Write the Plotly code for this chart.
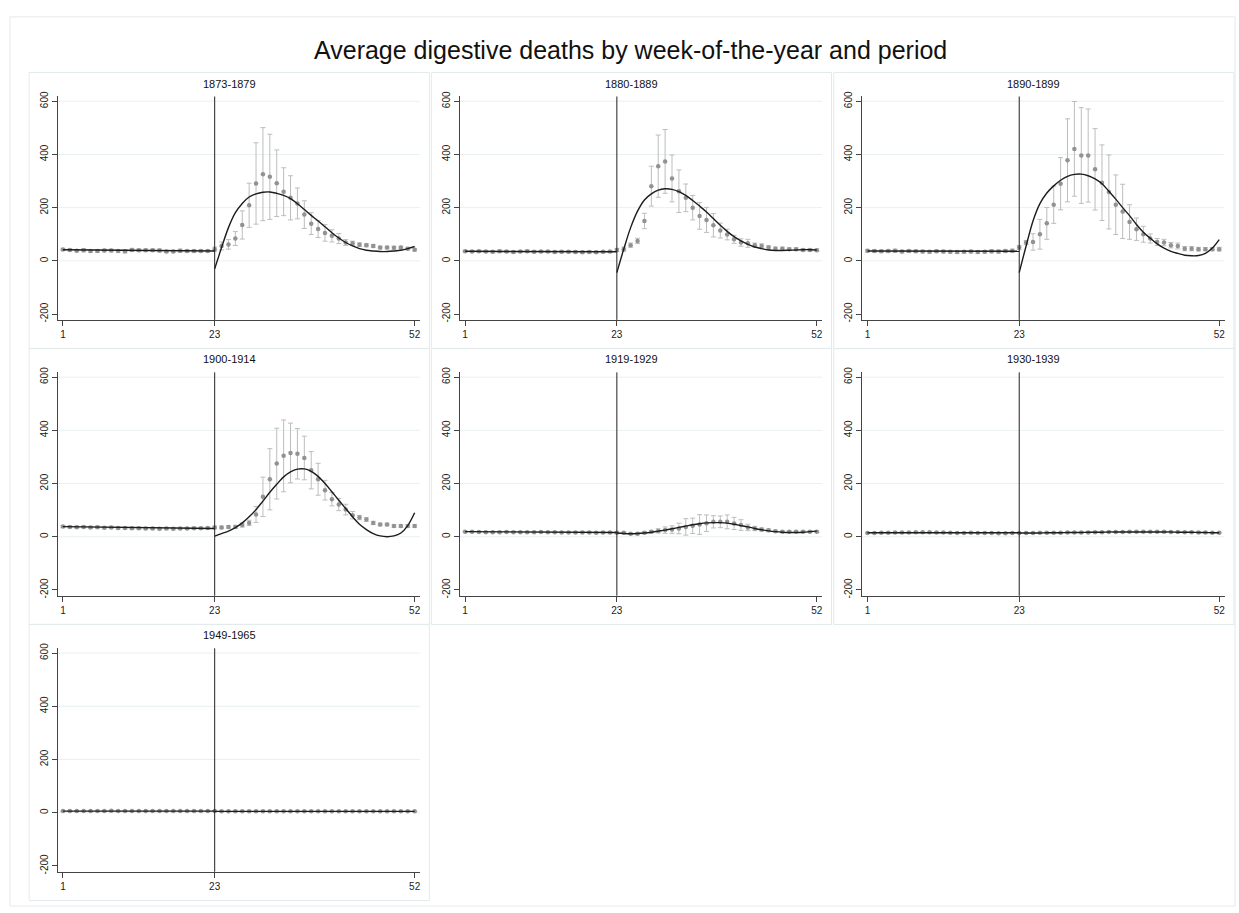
import plotly.graph_objects as go

# ---------------- data ----------------
weeks = list(range(1, 53))
post_weeks = list(range(23, 53))
pre_fit_weeks = [1, 23]
break_week = 23
x_ticks = [1, 23, 52]
y_ticks = [-200, 0, 200, 400, 600]
y_tick_text = ["-200", "0", "200", "400", "600"]
grid_vals = [0, 200, 400, 600]

periods = ["1873-1879", "1880-1889", "1890-1899", "1900-1914",
           "1919-1929", "1930-1939", "1949-1965"]

mean_1873 = [43, 41, 38, 40, 37, 37, 39, 39, 37, 36, 41, 40, 40, 40, 39, 35, 35, 38, 37, 37, 37, 37,
             44, 56, 62, 84, 135, 209, 291, 326, 316, 292, 260, 237, 216, 174, 140, 120, 105, 94,
             84, 69, 66, 61, 59, 56, 50, 50, 49, 50, 46, 42]
err_1873 = [4, 4, 4, 6, 5, 5, 5, 5, 4, 6, 6, 5, 5, 5, 6, 4, 4, 6, 5, 5, 5, 4,
            8, 15, 18, 26, 53, 83, 153, 175, 160, 125, 90, 83, 58, 52, 41, 32, 31, 23,
            19, 11, 8, 7, 6, 6, 5, 5, 6, 5, 5, 5]
fit_pre_1873 = [42, 37]
fit_post_1873 = [-30, 50, 125, 181, 216, 240, 252, 258, 259, 254, 246, 234, 215, 193, 171,
                 150, 128, 106, 86, 69, 56, 46, 40, 37, 35, 35, 37, 40, 46, 54]

mean_1880 = [36, 35, 36, 35, 34, 36, 35, 33, 35, 36, 34, 35, 35, 33, 34, 34, 33, 32, 33, 32, 34, 35,
             41, 44, 59, 75, 150, 281, 356, 374, 310, 262, 237, 200, 169, 154, 134, 114, 99, 81,
             69, 66, 59, 56, 50, 46, 46, 44, 44, 41, 41, 40]
err_1880 = [4, 4, 4, 4, 4, 5, 4, 4, 4, 5, 4, 4, 4, 4, 4, 4, 4, 4, 4, 4, 4, 4,
            6, 8, 8, 10, 29, 75, 117, 120, 88, 80, 52, 46, 50, 47, 44, 28, 20, 15,
            14, 15, 8, 8, 7, 6, 6, 5, 5, 5, 5, 5]
fit_pre_1880 = [36, 34]
fit_post_1880 = [-44, 44, 125, 187, 229, 252, 266, 271, 269, 260, 246, 227, 206, 184, 159,
                 134, 111, 91, 75, 62, 52, 46, 41, 39, 39, 40, 41, 42, 42, 41]

mean_1890 = [38, 37, 36, 37, 38, 35, 37, 36, 35, 34, 36, 35, 34, 33, 34, 35, 33, 34, 36, 35, 37, 38,
             50, 69, 71, 100, 141, 211, 290, 378, 421, 396, 396, 344, 294, 259, 211, 186, 146, 119,
             100, 84, 71, 69, 59, 56, 46, 46, 44, 44, 44, 44]
err_1890 = [5, 5, 5, 6, 6, 5, 5, 5, 5, 5, 5, 5, 5, 5, 5, 5, 5, 5, 6, 6, 6, 6,
            8, 8, 31, 56, 60, 70, 98, 156, 178, 180, 175, 153, 142, 139, 112, 102, 65, 42,
            30, 17, 13, 12, 10, 11, 8, 8, 7, 6, 6, 7]
fit_pre_1890 = [37, 36]
fit_post_1890 = [-44, 56, 150, 215, 255, 282, 303, 318, 325, 326, 320, 308, 290, 262, 232,
                 200, 170, 137, 108, 85, 64, 48, 36, 28, 21, 19, 20, 28, 48, 80]

mean_1900 = [38, 37, 36, 37, 35, 36, 34, 35, 33, 33, 32, 32, 31, 31, 30, 31, 30, 31, 31, 32, 32, 33,
             35, 35, 37, 37, 44, 52, 84, 150, 216, 275, 304, 315, 312, 296, 250, 216, 175, 141,
             121, 102, 81, 72, 65, 52, 46, 46, 40, 40, 40, 40]
err_1900 = [4, 4, 4, 4, 4, 4, 4, 4, 4, 4, 4, 4, 4, 4, 4, 4, 4, 4, 4, 4, 4, 4,
            5, 5, 5, 6, 8, 10, 30, 74, 115, 133, 135, 112, 95, 82, 70, 60, 37, 25,
            23, 20, 14, 8, 7, 6, 5, 5, 5, 5, 5, 5]
fit_pre_1900 = [38, 31]
fit_post_1900 = [2, 12, 21, 34, 52, 75, 102, 134, 167, 197, 225, 244, 254, 255, 246,
                 227, 200, 169, 137, 106, 75, 47, 27, 12, 3, 0, 3, 14, 42, 90]

mean_1919 = [19, 19, 18, 17, 17, 17, 18, 17, 17, 17, 17, 18, 17, 17, 16, 16, 16, 16, 16, 15, 16, 16,
             15, 15, 11, 11, 15, 19, 22, 25, 27, 31, 37, 41, 46, 51, 56, 56, 56, 50,
             44, 35, 31, 27, 24, 21, 19, 19, 19, 19, 19, 19]
err_1919 = [2, 2, 2, 2, 2, 2, 2, 2, 2, 2, 2, 2, 2, 2, 2, 2, 2, 2, 2, 2, 2, 2,
            3, 3, 3, 3, 4, 5, 8, 12, 14, 20, 31, 29, 37, 31, 23, 22, 26, 23,
            20, 12, 8, 6, 5, 4, 3, 3, 3, 3, 3, 3]
fit_pre_1919 = [19, 16]
fit_post_1919 = [14, 12, 11, 12, 14, 17, 21, 25, 30, 35, 40, 45, 49, 52, 53,
                 53, 51, 47, 42, 37, 31, 26, 22, 19, 17, 16, 16, 17, 19, 21]

mean_1930 = [14, 14, 15, 15, 16, 16, 16, 17, 17, 17, 16, 16, 15, 14, 14, 15, 14, 14, 14, 13, 13, 14,
             14, 14, 14, 15, 15, 15, 15, 16, 16, 16, 16, 17, 17, 18, 18, 18, 19, 19,
             19, 19, 19, 19, 18, 18, 17, 17, 16, 16, 15, 15]
err_1930 = [2] * 52
fit_pre_1930 = [15, 15]
fit_post_1930 = [14, 14, 14, 14, 15, 15, 15, 16, 16, 16, 17, 17, 17, 18, 18,
                 18, 18, 18, 18, 18, 18, 18, 18, 17, 17, 17, 16, 16, 15, 15]

mean_1949 = [6, 6, 6, 6, 6, 6, 6, 7, 6, 6, 6, 6, 6, 6, 6, 6, 6, 6, 6, 6, 6, 6,
             6, 5, 5, 5, 5, 5, 5, 5, 5, 5, 5, 5, 5, 5, 5, 5, 5, 5,
             5, 5, 5, 5, 5, 5, 5, 5, 5, 5, 5, 5]
err_1949 = [1.5] * 52
fit_pre_1949 = [6, 6]
fit_post_1949 = [5] * 30

panels = [
    (mean_1873, err_1873, fit_pre_1873, fit_post_1873),
    (mean_1880, err_1880, fit_pre_1880, fit_post_1880),
    (mean_1890, err_1890, fit_pre_1890, fit_post_1890),
    (mean_1900, err_1900, fit_pre_1900, fit_post_1900),
    (mean_1919, err_1919, fit_pre_1919, fit_post_1919),
    (mean_1930, err_1930, fit_pre_1930, fit_post_1930),
    (mean_1949, err_1949, fit_pre_1949, fit_post_1949),
]

# ---------------- layout geometry (pixels) ----------------
W, H = 1239, 913
AX_LEFT = [57.7, 460.2, 862.9]
AX_W = 362.6
ROW_TOP = [92.3, 370.6, 649.0]
AX_H = 225.4
FONT = "Liberation Sans, Arial, sans-serif"
FRAME = "#e3eaec"
GRID = "#e9f0f1"


def px(x):
    return x / W


def py(y):
    return 1 - y / H


fig = go.Figure()
layout = dict(
    width=W, height=H,
    margin=dict(l=0, r=0, t=0, b=0),
    paper_bgcolor="white", plot_bgcolor="white",
    showlegend=False,
    font=dict(family=FONT, color="#222"),
)
shapes = []
annotations = []

# outer graph frame
shapes.append(dict(type="rect", xref="paper", yref="paper",
                   x0=px(10), x1=px(1236), y0=py(909), y1=py(12),
                   line=dict(color=FRAME, width=1), layer="below"))

for i, (mean, err, fpre, fpost) in enumerate(panels):
    r, c = divmod(i, 3)
    n = "" if i == 0 else str(i + 1)
    xa, ya = "x" + n, "y" + n
    x0, x1 = AX_LEFT[c], AX_LEFT[c] + AX_W
    y0, y1 = ROW_TOP[r], ROW_TOP[r] + AX_H

    layout["xaxis" + n] = dict(
        domain=[px(x0), px(x1)], range=[0.23, 52.77], anchor=ya,
        tickmode="array", tickvals=x_ticks, ticks="outside", ticklen=5,
        tickcolor="#444", tickwidth=1,
        showline=True, linecolor="#444", linewidth=1.2,
        showgrid=False, zeroline=False,
        tickfont=dict(size=10, color="#222", family=FONT),
    )
    layout["yaxis" + n] = dict(
        domain=[py(y1), py(y0)], range=[-222, 618], anchor=xa,
        tickmode="array", tickvals=y_ticks, ticktext=y_tick_text,
        ticks="outside", ticklen=5,
        tickcolor="#444", tickwidth=1, tickangle=-90,
        showline=True, linecolor="#444", linewidth=1.2,
        showgrid=False, zeroline=False,
        tickfont=dict(size=10, color="#222", family=FONT),
    )

    # panel frame
    shapes.append(dict(type="rect", xref="paper", yref="paper",
                       x0=px(x0 - 28.5), x1=px(x0 + 372), y0=py(y0 + 254.4), y1=py(y0 - 24.2),
                       line=dict(color=FRAME, width=1), layer="below"))
    # grid lines
    for g in grid_vals:
        shapes.append(dict(type="line", xref=xa + " domain", yref=ya,
                           x0=0, x1=1, y0=g, y1=g,
                           line=dict(color=GRID, width=1), layer="below"))
    # break line
    shapes.append(dict(type="line", xref=xa, yref=ya + " domain",
                       x0=break_week, x1=break_week, y0=0, y1=1,
                       line=dict(color="#222", width=1)))

    # panel subtitle
    annotations.append(dict(text=periods[i], xref="paper", yref="paper",
                            x=px(x0 - 28.5 + 200.25), y=py(y0 - 13),
                            showarrow=False, xanchor="center", yanchor="middle",
                            font=dict(size=11, color="#111", family=FONT)))

    # means with confidence intervals
    fig.add_trace(go.Scatter(
        x=weeks, y=mean, mode="markers", xaxis=xa, yaxis=ya,
        marker=dict(symbol="circle", size=4.5, color="#929292"),
        error_y=dict(type="data", array=err, symmetric=True, color="#bdbdbd",
                     thickness=1, width=2.5),
        hoverinfo="skip",
    ))
    # fitted lines
    fig.add_trace(go.Scatter(
        x=pre_fit_weeks, y=fpre, mode="lines", xaxis=xa, yaxis=ya,
        line=dict(color="#1c1c1c", width=1.4), hoverinfo="skip",
    ))
    fig.add_trace(go.Scatter(
        x=post_weeks, y=fpost, mode="lines", xaxis=xa, yaxis=ya,
        line=dict(color="#1c1c1c", width=1.4, shape="spline", smoothing=1.0),
        hoverinfo="skip",
    ))

annotations.append(dict(text="Average digestive deaths by week-of-the-year and period",
                        xref="paper", yref="paper", x=px(631), y=py(45),
                        showarrow=False, xanchor="center", yanchor="middle",
                        font=dict(size=25, color="#111", family=FONT)))

layout["shapes"] = shapes
layout["annotations"] = annotations
fig.update_layout(**layout)
fig.write_html("out.html")
